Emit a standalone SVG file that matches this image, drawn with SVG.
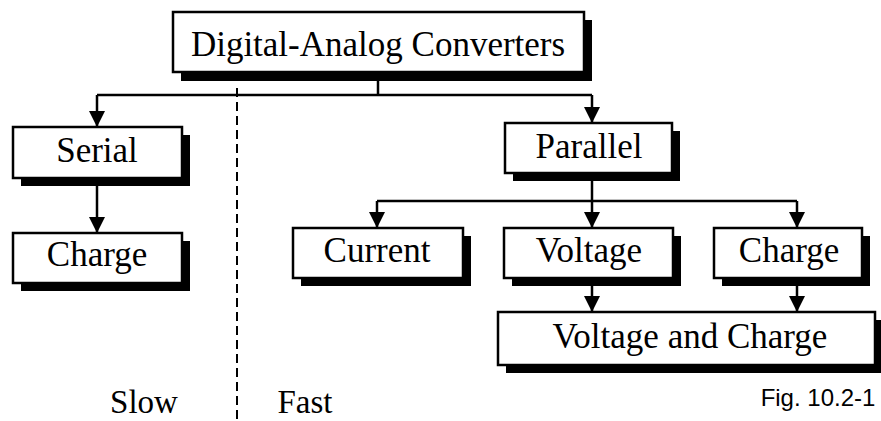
<svg xmlns="http://www.w3.org/2000/svg" width="881" height="421" viewBox="0 0 881 421">
<defs>
<style>
.sh{fill:#000}
.bx{fill:#fff;stroke:#000;stroke-width:2.5}
.t{font-family:"Liberation Serif","Times New Roman",serif;font-size:35px;fill:#000;text-anchor:middle}
.l{font-family:"Liberation Serif","Times New Roman",serif;font-size:33px;fill:#000;text-anchor:middle}
.f{font-family:"Liberation Sans",Arial,sans-serif;font-size:24px;fill:#000;text-anchor:middle}
.c{fill:none;stroke:#000;stroke-width:2.5}
.d{fill:none;stroke:#000;stroke-width:2;stroke-dasharray:9 5}
</style>
<marker id="ah" markerUnits="userSpaceOnUse" markerWidth="16" markerHeight="16" viewBox="0 0 16 16" refX="16" refY="8" orient="auto">
<path d="M0,0 L16,8 L0,16 Z" fill="#000"/>
</marker>
</defs>
<g id="connectors">
<path class="c" d="M378,80 V95"/>
<path class="c" d="M97,95 H592"/>
<path class="c" d="M97,95 V127" marker-end="url(#ah)"/>
<path class="c" d="M592,95 V123" marker-end="url(#ah)"/>
<path class="c" d="M97,186 V233" marker-end="url(#ah)"/>
<path class="c" d="M592,181 V201"/>
<path class="c" d="M377,201 H797"/>
<path class="c" d="M377,201 V228" marker-end="url(#ah)"/>
<path class="c" d="M592,201 V228" marker-end="url(#ah)"/>
<path class="c" d="M797,201 V228" marker-end="url(#ah)"/>
<path class="c" d="M592,286 V312" marker-end="url(#ah)"/>
<path class="c" d="M797,286 V312" marker-end="url(#ah)"/>
<path class="d" d="M237,88 V421"/>
</g>
<g id="dac">
<rect class="sh" x="181" y="20" width="411" height="61"/>
<rect class="bx" x="173" y="12" width="411" height="60"/>
<text class="t" x="378" y="56">Digital-Analog Converters</text>
</g>
<g id="serial">
<rect class="sh" x="21" y="135" width="169" height="51"/>
<rect class="bx" x="13" y="127" width="169" height="51"/>
<text class="t" x="97" y="162">Serial</text>
</g>
<g id="charge-serial">
<rect class="sh" x="21" y="241" width="169" height="50"/>
<rect class="bx" x="13" y="233" width="169" height="50"/>
<text class="t" x="97" y="266">Charge</text>
</g>
<g id="parallel">
<rect class="sh" x="513" y="131" width="167" height="50"/>
<rect class="bx" x="505" y="123" width="167" height="50"/>
<text class="t" x="589" y="158">Parallel</text>
</g>
<g id="current">
<rect class="sh" x="301" y="236" width="170" height="50"/>
<rect class="bx" x="293" y="228" width="170" height="50"/>
<text class="t" x="377" y="262">Current</text>
</g>
<g id="voltage">
<rect class="sh" x="512" y="236" width="169" height="50"/>
<rect class="bx" x="504" y="228" width="169" height="50"/>
<text class="t" x="589" y="262">Voltage</text>
</g>
<g id="charge-parallel">
<rect class="sh" x="722" y="236" width="148" height="50"/>
<rect class="bx" x="714" y="228" width="148" height="50"/>
<text class="t" x="789" y="262">Charge</text>
</g>
<g id="voltage-and-charge">
<rect class="sh" x="506" y="320" width="378" height="53"/>
<rect class="bx" x="498" y="312" width="377" height="53"/>
<text class="t" x="690" y="348">Voltage and Charge</text>
</g>
<g id="labels">
<text class="l" x="144" y="413">Slow</text>
<text class="l" x="305" y="413">Fast</text>
<text class="f" x="818" y="406">Fig. 10.2-1</text>
</g>
</svg>
